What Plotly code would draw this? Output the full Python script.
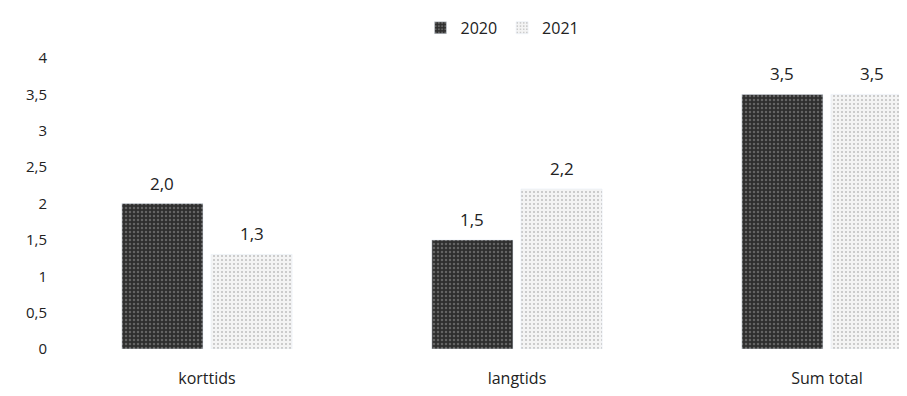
import plotly.graph_objects as go

categories = ["korttids", "langtids", "Sum total"]
series_2020 = [2.0, 1.5, 3.5]
series_2021 = [1.3, 2.2, 3.5]
y_ticks = [0, 0.5, 1, 1.5, 2, 2.5, 3, 3.5, 4]
y_tick_labels = ["0", "0,5", "1", "1,5", "2", "2,5", "3", "3,5", "4"]

x = list(range(len(categories)))
bargap = 0.425
half_offset = (1 - bargap) / 4

fig = go.Figure()
fig.add_trace(go.Bar(
    name="2020", x=x, y=series_2020,
    marker=dict(color="#3c3c3c",
                pattern=dict(shape=".", fgcolor="#9a9a9a", bgcolor="#2e2e2e", size=4, solidity=0.3)),
))
fig.add_trace(go.Bar(
    name="2021", x=x, y=series_2021,
    marker=dict(color="#e4e4e4",
                pattern=dict(shape=".", fgcolor="#8a8a8a", bgcolor="#f4f4f4", size=4, solidity=0.2)),
))

for vals, off in ((series_2020, -half_offset), (series_2021, half_offset)):
    for xi, v in zip(x, vals):
        fig.add_annotation(x=xi + off, y=v, text=f"{v:.1f}".replace(".", ","),
                           showarrow=False, yanchor="bottom", yshift=7,
                           font=dict(size=17, color="#222"))

fig.update_layout(
    width=907, height=396,
    margin=dict(l=44, r=0, t=50, b=55),
    paper_bgcolor="white", plot_bgcolor="white",
    font=dict(family="Open Sans, Liberation Sans, sans-serif", size=14, color="#222"),
    barmode="group", bargap=bargap, bargroupgap=0.09,
    showlegend=True,
    legend=dict(orientation="h", x=0.522, xanchor="center", y=0.95, yanchor="middle",
                yref="container", font=dict(size=16)),
    xaxis=dict(tickmode="array", tickvals=x, ticktext=categories,
               range=[-0.5, 2.284], showgrid=False, zeroline=False, showline=False,
               ticks="", ticklabelstandoff=18, tickfont=dict(size=16)),
    yaxis=dict(range=[0, 4], tickmode="array", tickvals=y_ticks, ticktext=y_tick_labels,
               showgrid=False, zeroline=False, showline=False, ticks="",
               ticklabelstandoff=4, tickfont=dict(size=15)),
)

fig.write_html("out.html")
